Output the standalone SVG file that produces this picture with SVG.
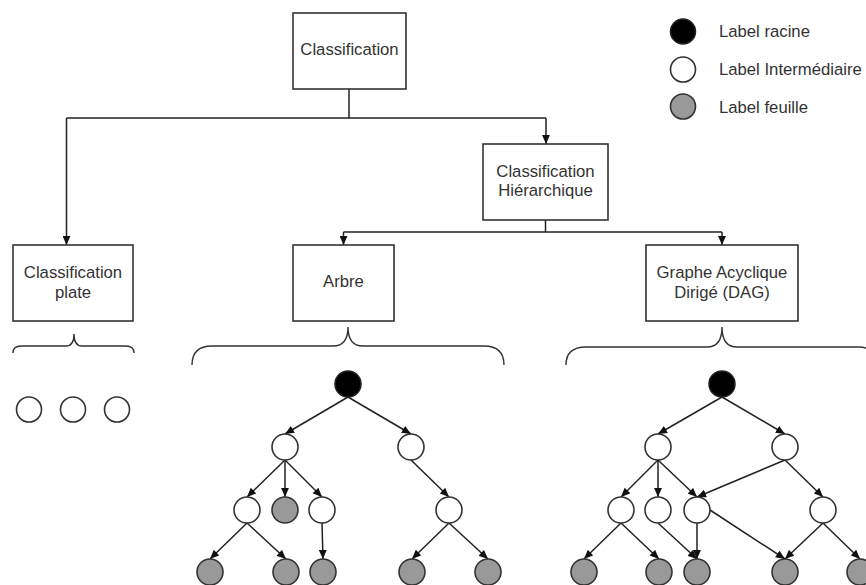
<svg xmlns="http://www.w3.org/2000/svg" width="866" height="585" viewBox="0 0 866 585">
<defs>
<style>
.box{fill:#fff;stroke:#333;stroke-width:1.6}
.t{font-family:"Liberation Sans",Arial,sans-serif;font-size:16.7px;fill:#333;text-anchor:middle}
.lt{font-family:"Liberation Sans",Arial,sans-serif;font-size:16.7px;fill:#333}
.ln{fill:none;stroke:#222;stroke-width:1.5}
.ar{fill:none;stroke:#222;stroke-width:1.5;marker-end:url(#ah)}
.br{fill:none;stroke:#333;stroke-width:1.4}
.root{fill:#000;stroke:#222;stroke-width:1.5}
.mid{fill:#fff;stroke:#333;stroke-width:1.6}
.leaf{fill:#999;stroke:#333;stroke-width:1.6}
</style>
<marker id="ah" viewBox="0 0 8 7" refX="8" refY="3.5" markerWidth="9.5" markerHeight="8" markerUnits="userSpaceOnUse" orient="auto">
<path d="M0,0 L8,3.5 L0,7 z" fill="#111"/>
</marker>
</defs>
<rect width="866" height="585" fill="#fff"/>

<g id="connectors">
<path class="ln" d="M349,89 V118"/>
<path class="ln" d="M66.5,118 H546"/>
<path class="ar" d="M66.5,118 V245"/>
<path class="ar" d="M546,118 V144"/>
<path class="ln" d="M545.5,220 V232"/>
<path class="ln" d="M343.5,232 H722"/>
<path class="ar" d="M343.5,232 V245"/>
<path class="ar" d="M722,232 V245"/>
</g>

<g id="classification">
<rect class="box" x="293" y="13" width="113" height="76"/>
<text class="t" x="349.5" y="55">Classification</text>
</g>
<g id="hierarchique">
<rect class="box" x="483" y="144" width="125" height="76"/>
<text class="t" x="545.5" y="176.5">Classification</text>
<text class="t" x="545.5" y="196">Hiérarchique</text>
</g>
<g id="plate">
<rect class="box" x="13" y="245" width="120" height="76"/>
<text class="t" x="73" y="278">Classification</text>
<text class="t" x="73" y="297.5">plate</text>
</g>
<g id="arbre">
<rect class="box" x="293" y="245" width="101" height="76"/>
<text class="t" x="343.5" y="286.5">Arbre</text>
</g>
<g id="dag">
<rect class="box" x="646" y="245" width="152" height="76"/>
<text class="t" x="722" y="278">Graphe Acyclique</text>
<text class="t" x="722" y="297.5">Dirigé (DAG)</text>
</g>

<g id="legend">
<circle class="root" cx="683" cy="31.5" r="12.5"/>
<text class="lt" x="719" y="37">Label racine</text>
<circle class="mid" cx="683" cy="69.5" r="12.5"/>
<text class="lt" x="719" y="75">Label Intermédiaire</text>
<circle class="leaf" cx="683" cy="106.5" r="12.5"/>
<text class="lt" x="719" y="112.5">Label feuille</text>
</g>

<g id="braces">
<path class="br" d="M13,353 Q13,346 21,346 L66,346 Q74,346 74,334 Q74,346 82,346 L126,346 Q134,346 134,353"/>
<path class="br" d="M192,365 Q192,346 212,346 L333,346 Q348,346 348,327 Q348,346 363,346 L484,346 Q504,346 504,365"/>
<path class="br" d="M566,365 Q566,347 586,347 L707,347 Q722,347 722,327 Q722,347 737,347 L858,347 Q878,347 878,365"/>
</g>

<g id="plate-labels">
<circle class="mid" cx="29" cy="409.5" r="12.5"/>
<circle class="mid" cx="73" cy="409.5" r="12.5"/>
<circle class="mid" cx="117" cy="409.5" r="12.5"/>
</g>

<g id="tree-edges">
<path class="ar" d="M348,397 L285,434"/>
<path class="ar" d="M348,397 L411,434"/>
<path class="ar" d="M285,460 L247,497"/>
<path class="ar" d="M285,460 L285,497"/>
<path class="ar" d="M285,460 L322,497"/>
<path class="ar" d="M411,460 L449,497"/>
<path class="ar" d="M247,523 L210,559"/>
<path class="ar" d="M247,523 L286,559"/>
<path class="ar" d="M322,523 L323,559"/>
<path class="ar" d="M449,523 L412,559"/>
<path class="ar" d="M449,523 L488,559"/>
</g>
<g id="tree-nodes">
<circle class="root" cx="348" cy="384" r="13"/>
<circle class="mid" cx="285" cy="447" r="13"/>
<circle class="mid" cx="411" cy="447" r="13"/>
<circle class="mid" cx="247" cy="510" r="13"/>
<circle class="leaf" cx="285" cy="510" r="13"/>
<circle class="mid" cx="322" cy="510" r="13"/>
<circle class="mid" cx="449" cy="510" r="13"/>
<circle class="leaf" cx="210" cy="572" r="13"/>
<circle class="leaf" cx="286" cy="572" r="13"/>
<circle class="leaf" cx="323" cy="572" r="13"/>
<circle class="leaf" cx="412" cy="572" r="13"/>
<circle class="leaf" cx="488" cy="572" r="13"/>
</g>

<g id="dag-edges">
<path class="ar" d="M722,397 L658,434"/>
<path class="ar" d="M722,397 L785,434"/>
<path class="ar" d="M658,460 L621,497"/>
<path class="ar" d="M658,460 L658,497"/>
<path class="ar" d="M658,460 L697,497"/>
<path class="ar" d="M785,460 L697,497"/>
<path class="ar" d="M785,460 L823,497"/>
<path class="ar" d="M621,523 L584,559"/>
<path class="ar" d="M621,523 L659,559"/>
<path class="ar" d="M658,523 L697,559"/>
<path class="ar" d="M697,523 L697,559"/>
<path class="ar" d="M710,510 L785,559"/>
<path class="ar" d="M823,523 L785,559"/>
<path class="ar" d="M823,523 L860,559"/>
</g>
<g id="dag-nodes">
<circle class="root" cx="722" cy="384" r="13"/>
<circle class="mid" cx="658" cy="447" r="13"/>
<circle class="mid" cx="785" cy="447" r="13"/>
<circle class="mid" cx="621" cy="510" r="13"/>
<circle class="mid" cx="658" cy="510" r="13"/>
<circle class="mid" cx="697" cy="510" r="13"/>
<circle class="mid" cx="823" cy="510" r="13"/>
<circle class="leaf" cx="584" cy="572" r="13"/>
<circle class="leaf" cx="659" cy="572" r="13"/>
<circle class="leaf" cx="697" cy="572" r="13"/>
<circle class="leaf" cx="785" cy="572" r="13"/>
<circle class="leaf" cx="860" cy="572" r="13"/>
</g>
</svg>
